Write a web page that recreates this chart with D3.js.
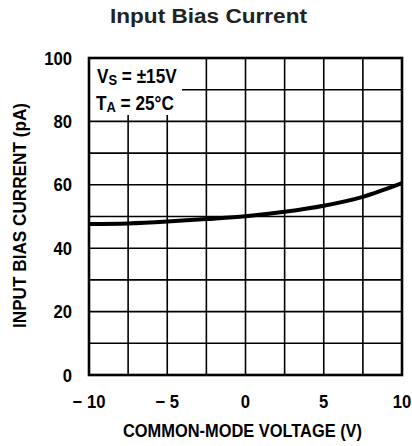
<!DOCTYPE html>
<meta charset="utf-8">
<script src="https://cdn.jsdelivr.net/npm/d3@7/dist/d3.min.js"></script>
<style>
  body { margin: 0; background: #fff; }
  text { fill: #000; }
</style>
<body>
<svg width="412" height="446"></svg>
</body>
<script>
    // data
    var vcm = [-10, -7.5, -5, -2.5, 0, 2.5, 5, 7.5, 10];
    var ibias = [47.6, 47.8, 48.4, 49.2, 50.1, 51.5, 53.4, 56.2, 60.5];
    var xTicks = [-10, -5, 0, 5, 10];
    var yTicks = [0, 20, 40, 60, 80, 100];
    var xGrid = d3.range(-10, 10.01, 2.5);
    var yGrid = d3.range(0, 100.01, 10);

    var font = "'Liberation Sans', Arial, sans-serif";

    var svg = d3.select('svg');
    var pLeft = 89, pRight = 402, pTop = 58, pBottom = 375;

    var x = d3.scaleLinear().domain([-10, 10]).range([pLeft, pRight]);
    var y = d3.scaleLinear().domain([0, 100]).range([pBottom, pTop]);

    // narrow bold text: no condensed font here, so squeeze horizontally
    function tr(px, py, f) {
        return 'translate(' + px + ',' + py + ') scale(' + f + ',1)';
    }

    // title
    svg.append('text')
        .attr('x', 110).attr('y', 23)
        .attr('textLength', 197).attr('lengthAdjust', 'spacingAndGlyphs')
        .style('font-family', font)
        .style('font-weight', 'bold')
        .style('font-size', '19.5px')
        .style('fill', '#222')
        .text('Input Bias Current');

    var g = svg.append('g');

    // grid
    g.selectAll('line.vg').data(xGrid).enter().append('line')
        .attr('x1', function (d) { return x(d); }).attr('x2', function (d) { return x(d); })
        .attr('y1', pTop).attr('y2', pBottom)
        .attr('stroke', '#000').attr('stroke-width', 1.6);
    g.selectAll('line.hg').data(yGrid).enter().append('line')
        .attr('y1', function (d) { return y(d); }).attr('y2', function (d) { return y(d); })
        .attr('x1', pLeft).attr('x2', pRight)
        .attr('stroke', '#000').attr('stroke-width', 1.6);

    // annotation box covers the grid
    g.append('rect')
        .attr('x', pLeft + 1).attr('y', pTop + 1)
        .attr('width', 92).attr('height', 56)
        .attr('fill', '#fff');

    // frame
    g.append('rect')
        .attr('x', pLeft).attr('y', pTop)
        .attr('width', pRight - pLeft).attr('height', pBottom - pTop)
        .attr('fill', 'none').attr('stroke', '#000').attr('stroke-width', 2.6);

    // curve
    var line = d3.line()
        .x(function (d, i) { return x(vcm[i]); })
        .y(function (d) { return y(d); })
        .curve(d3.curveMonotoneX);
    g.append('path')
        .datum(ibias)
        .attr('d', line)
        .attr('fill', 'none')
        .attr('stroke', '#000')
        .attr('stroke-width', 4);

    // annotation
    var ann = g.append('g')
        .style('font-family', font)
        .style('font-weight', 'bold')
        .style('font-size', '20px');
    var t1 = ann.append('text').attr('transform', tr(97, 83, 0.86));
    t1.append('tspan').text('V');
    t1.append('tspan').attr('dy', 2).style('font-size', '15px').text('S');
    t1.append('tspan').attr('dy', -2).text(' = \u00b115V');
    var t2 = ann.append('text').attr('transform', tr(96, 110, 0.86));
    t2.append('tspan').text('T');
    t2.append('tspan').attr('dy', 2).style('font-size', '15px').text('A');
    t2.append('tspan').attr('dy', -2).text(' = 25\u00b0C');

    // tick labels
    svg.selectAll('text.xt').data(xTicks).enter().append('text')
        .attr('transform', function (d) { return tr(x(d), 408, 0.9); })
        .attr('text-anchor', 'middle')
        .style('font-family', font).style('font-weight', 'bold').style('font-size', '18.5px')
        .text(function (d) { return d < 0 ? '\u2212 ' + (-d) : d; });

    svg.selectAll('text.yt').data(yTicks).enter().append('text')
        .attr('transform', function (d) { return tr(72, y(d) + 6.5, 0.9); })
        .attr('text-anchor', 'end')
        .style('font-family', font).style('font-weight', 'bold').style('font-size', '18.5px')
        .text(function (d) { return d; });

    // axis titles
    svg.append('text')
        .attr('x', 123).attr('y', 437)
        .attr('textLength', 239).attr('lengthAdjust', 'spacingAndGlyphs')
        .style('font-family', font).style('font-weight', 'bold').style('font-size', '19px')
        .text('COMMON-MODE VOLTAGE (V)');

    svg.append('text')
        .attr('transform', 'translate(26,328) rotate(-90)')
        .attr('textLength', 225).attr('lengthAdjust', 'spacingAndGlyphs')
        .style('font-family', font).style('font-weight', 'bold').style('font-size', '18px')
        .text('INPUT BIAS CURRENT (pA)');
</script>
